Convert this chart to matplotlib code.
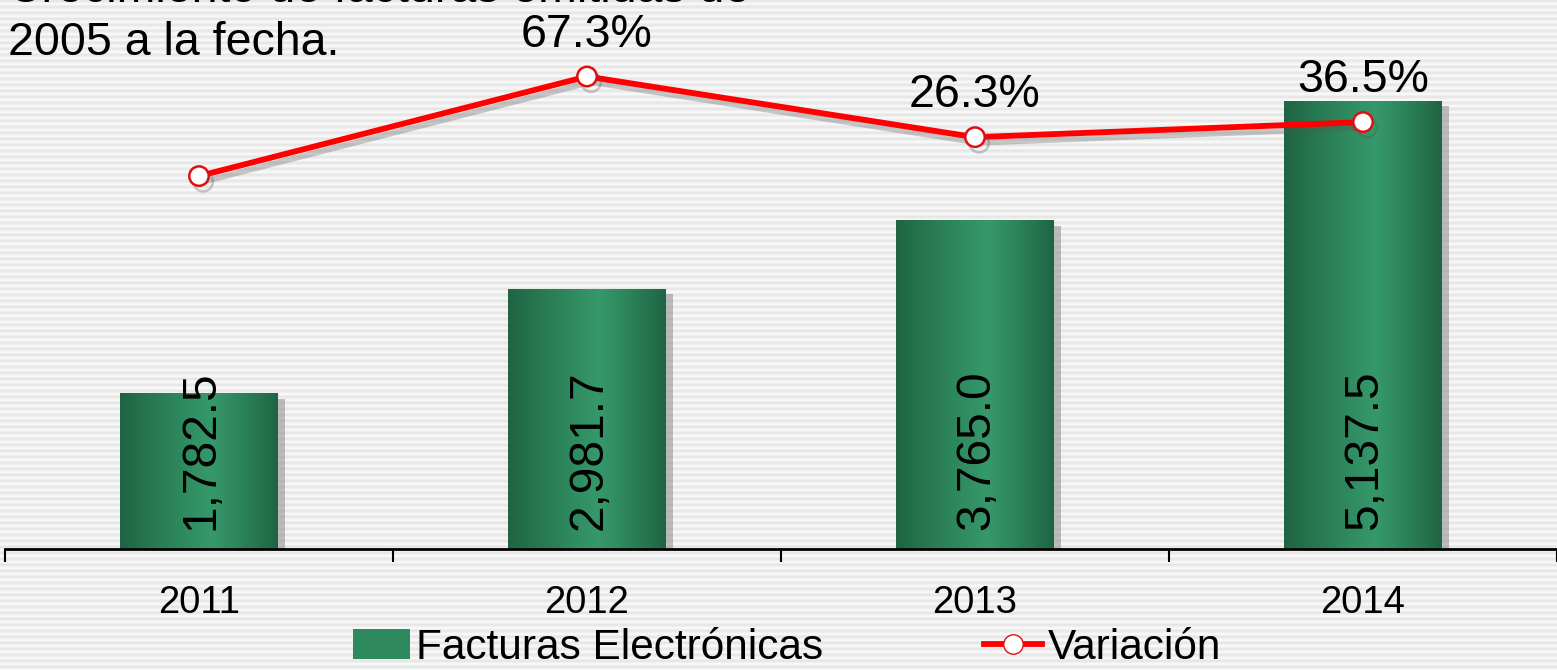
import numpy as np
import matplotlib
matplotlib.use("Agg")
import matplotlib.pyplot as plt
import matplotlib.patheffects as pe
from matplotlib.lines import Line2D
from matplotlib.patches import Patch

plt.rcParams['font.family'] = ['Liberation Sans', 'DejaVu Sans']

# data
years = ['2011', '2012', '2013', '2014']
facturas = [1782.5, 2981.7, 3765.0, 5137.5]
variacion = [0.0, 67.3, 26.3, 36.5]
var_labels = ['', '67.3%', '26.3%', '36.5%']

W, H = 1557, 670
fig = plt.figure(figsize=(W / 100, H / 100), dpi=100)

# striped background
rows = np.arange(H)
shade = np.array([0.905, 0.915, 0.94, 0.975, 0.97, 0.935])[rows % 6]
bg = np.repeat(shade[:, None], W, axis=1)
bg = np.dstack([bg, bg, bg])
ax_bg = fig.add_axes([0, 0, 1, 1], zorder=-1)
ax_bg.imshow(bg, aspect='auto', interpolation='nearest')
ax_bg.axis('off')

ax = fig.add_axes([5 / W, 1 - 549 / H, 1 - 5 / W, 549 / H], zorder=1)
ax.patch.set_visible(False)
x = np.arange(len(years))

# bars with horizontal gradient
bars = ax.bar(x, facturas, width=0.405, color='#2e8a5c', zorder=2,
              path_effects=[pe.SimplePatchShadow(offset=(5, -4), shadow_rgbFace='#777777', alpha=0.45),
                            pe.Normal()])
t = np.linspace(0, 1, 200)
dark = np.array([0.12, 0.39, 0.26])
light = np.array([0.21, 0.60, 0.42])
k = np.where(t < 0.58, (t / 0.58) ** 0.9, ((1 - t) / 0.42) ** 0.9)
grad = dark + (light - dark) * k[:, None]
grad = grad[None, :, :]
for b in bars:
    x0, y0 = b.get_x(), b.get_y()
    im = ax.imshow(grad, extent=[x0, x0 + b.get_width(), y0, y0 + b.get_height()],
                   aspect='auto', zorder=3, interpolation='bilinear')
    im.set_clip_path(b)

for xi, v in zip(x, facturas):
    ax.annotate(f'{v:,.1f}', (xi, 0), xytext=(2, 19), textcoords='offset pixels',
                rotation=90, ha='center', va='bottom', fontsize=34.5, zorder=5)

ax.set_xlim(-0.5, 3.5)
ax.set_ylim(0, 6290)
for s in ['top', 'right', 'left']:
    ax.spines[s].set_visible(False)
ax.spines['bottom'].set_linewidth(2)
ax.spines['bottom'].set_zorder(4)
ax.set_yticks([])
ax.set_xticks(np.arange(-0.5, 4, 1))
ax.set_xticklabels([])
ax.tick_params(axis='x', which='major', direction='out', length=9, width=1.5)
ax.set_xticks(x, minor=True)
ax.set_xticklabels(years, minor=True, fontsize=27.5)
ax.tick_params(axis='x', which='minor', length=0, pad=26)

# variation line
ax2 = ax.twinx()
ax2.set_ylim(-252, 119)
ax2.axis('off')
ax2.plot(x, variacion, color='#ff0000', lw=4.2, marker='o', markersize=14,
         markerfacecolor='white', markeredgecolor='#e01010', markeredgewidth=1.8,
         solid_capstyle='butt', zorder=5,
         path_effects=[pe.SimpleLineShadow(offset=(3, -4), shadow_color='#555555', alpha=0.3),
                       pe.Normal()])
for xi, v, lab in zip(x, variacion, var_labels):
    if lab:
        ax2.annotate(lab, (xi, v), xytext=(0, 30), textcoords='offset pixels',
                     ha='center', va='baseline', fontsize=33.5)

# heading text, first line runs off the top as in the source
fig.text(8 / W, 1 - 1.5 / H, 'Crecimiento de facturas emitidas de', fontsize=33.5,
         ha='left', va='baseline', zorder=5)
fig.text(8 / W, 1 - 55 / H, '2005 a la fecha.', fontsize=33.5, ha='left', va='baseline')

handles = [Patch(facecolor='#2e8a5c', edgecolor='none'),
           Line2D([], [], color='#ff0000', lw=4.2, marker='o', markersize=14,
                  markerfacecolor='white', markeredgecolor='#e01010')]
fig.legend(handles, ['Facturas Electrónicas', 'Variación'], loc='center',
           bbox_to_anchor=(787 / W, 1 - 648 / H), ncol=2, frameon=False,
           fontsize=30.5, handlelength=1.35, handletextpad=0.15, columnspacing=3.8,
           borderpad=0, borderaxespad=0)

fig.savefig('out.png', dpi=100)
